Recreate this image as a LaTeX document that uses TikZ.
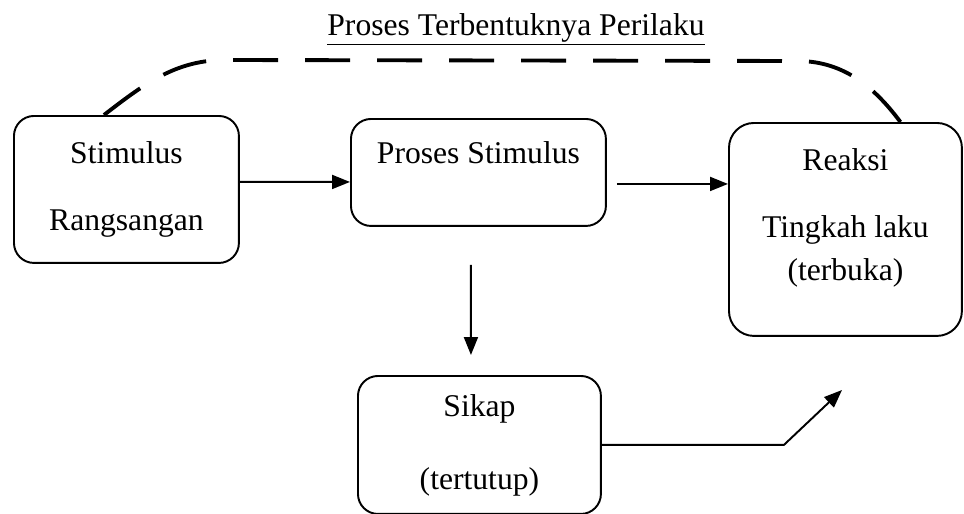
\documentclass[tikz,border=0pt]{standalone}
\usepackage{fontspec}
\setmainfont{Liberation Serif}
\usepackage{tikz}
\usetikzlibrary{positioning,arrows.meta}

\begin{document}
\begin{tikzpicture}[
  x=0.02cm, y=-0.02cm,
  box/.style={draw, line width=1.1pt, rounded corners=0.4cm, anchor=north west, align=center, font=\fontsize{18}{21}\selectfont},
  arr/.style={-{Triangle[length=3.6mm, width=2.8mm]}, line width=1.1pt},
  dashline/.style={line width=2.2pt, dash pattern=on 0.9cm off 0.54cm},
]
\useasboundingbox (0,0) rectangle (964,514);

\node[anchor=base, font=\fontsize{18}{21}\selectfont] (title) at (516,35) {\underline{Proses Terbentuknya Perilaku}};

\node[box, minimum width=4.5cm, minimum height=2.94cm] (stim) at (13,115) {Stimulus\\[17pt]Rangsangan};
\node[box, minimum width=5.1cm, minimum height=2.14cm, inner ysep=0pt, text height=0.9cm, text depth=1.24cm] (proses) at (350,118) {Proses Stimulus};
\node[box, minimum width=4.66cm, minimum height=4.26cm, rounded corners=0.5cm] (reaksi) at (728,122) {Reaksi\\[17.5pt]Tingkah laku\\[3.5pt](terbuka)\\[-4pt]\mbox{}};
\node[box, minimum width=4.86cm, minimum height=2.76cm] (sikap) at (357,375) {Sikap\\[20.5pt](tertutup)};

\coordinate (sikapend) at (842,390);

\draw[arr] ([yshift=0.15cm]stim.east) -- ([yshift=-0.19cm]proses.west);
\draw[arr] ([xshift=0.2cm, yshift=-0.23cm]proses.east) coordinate (pr) -- (pr -| reaksi.west);
\draw[arr] ([xshift=-0.15cm, yshift=-0.76cm]proses.south) -- ([xshift=-0.17cm, yshift=0.4cm]sikap.north);
\draw[arr] (sikap.east) -- ++(182,0) -- (sikapend);

% dashed link over the top
\draw[dashline] ([xshift=-0.45cm]stim.north) .. controls (143,85) and (175,60) .. (225,60)
  -- (800,61) .. controls (845,62) and (875,88) .. ([xshift=1.1cm]reaksi.north);
\end{tikzpicture}
\end{document}
